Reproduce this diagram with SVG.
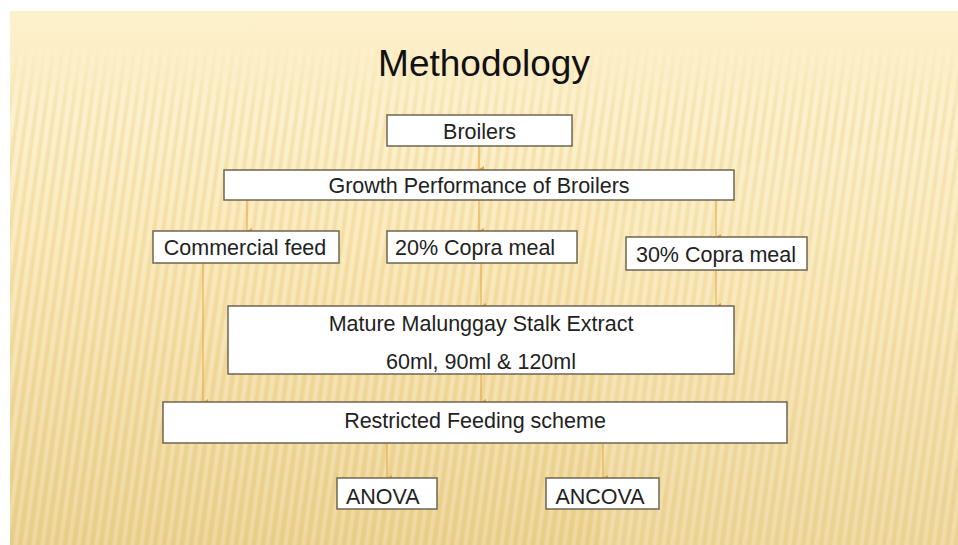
<svg xmlns="http://www.w3.org/2000/svg" width="958" height="545" viewBox="0 0 958 545">
  <defs>
    <linearGradient id="bg" x1="0" y1="0" x2="0" y2="1">
      <stop offset="0" stop-color="#fdf1cc"/>
      <stop offset="0.45" stop-color="#f8e3ab"/>
      <stop offset="1" stop-color="#eacf8b"/>
    </linearGradient>
    <pattern id="stripes" width="9" height="40" patternUnits="userSpaceOnUse" patternTransform="skewX(-8)">
      <rect x="0" y="0" width="4" height="40" fill="#ffffff" opacity="0.28"/>
      <rect x="5" y="0" width="3" height="40" fill="#d9b866" opacity="0.12"/>
    </pattern>
    <linearGradient id="fade" x1="0" y1="0" x2="0" y2="1">
      <stop offset="0" stop-color="#fff" stop-opacity="0"/>
      <stop offset="0.15" stop-color="#fff" stop-opacity="1"/>
      <stop offset="1" stop-color="#fff" stop-opacity="0.7"/>
    </linearGradient>
    <mask id="stripeMask">
      <rect x="10" y="40" width="948" height="505" fill="url(#fade)"/>
    </mask>
    <marker id="arrow" viewBox="0 0 6 5" refX="3" refY="5" markerWidth="6" markerHeight="5" markerUnits="userSpaceOnUse" orient="auto-start-reverse">
      <path d="M0,0 L6,0 L3,5 Z" fill="#e6a53c"/>
    </marker>
  </defs>
  <style>
    .box { fill: #ffffff; stroke: #6e6650; stroke-width: 1.5; }
    .lbl { font-family: "Liberation Sans", Arial, sans-serif; font-size: 21.5px; fill: #222222; }
    .mid { text-anchor: middle; }
    .title { font-family: "Liberation Sans", Arial, sans-serif; font-size: 37px; fill: #111111; text-anchor: middle; }
    .conn { stroke: #e6a53c; stroke-width: 1; fill: none; marker-end: url(#arrow); }
  </style>

  <!-- slide background -->
  <rect x="0" y="0" width="958" height="545" fill="#ffffff"/>
  <rect x="10" y="11" width="948" height="534" fill="url(#bg)"/>
  <rect x="10" y="40" width="948" height="505" fill="url(#stripes)" mask="url(#stripeMask)"/>
  <path d="M600,230 C700,160 840,140 958,140 L958,545 L600,545 Z" fill="#fff6dc" opacity="0.12"/>

  <text class="title" x="484" y="76">Methodology</text>

  <g id="connectors">
    <line class="conn" x1="479" y1="146" x2="479" y2="169"/>
    <line class="conn" x1="247" y1="200" x2="247" y2="231"/>
    <line class="conn" x1="479" y1="200" x2="479" y2="231"/>
    <line class="conn" x1="716" y1="200" x2="716" y2="237"/>
    <line class="conn" x1="481" y1="263" x2="481" y2="306"/>
    <line class="conn" x1="716" y1="270" x2="716" y2="306"/>
    <line class="conn" x1="203" y1="263" x2="203" y2="402"/>
    <line class="conn" x1="481" y1="374" x2="481" y2="402"/>
    <line class="conn" x1="387" y1="443" x2="387" y2="478"/>
    <line class="conn" x1="603" y1="443" x2="603" y2="478"/>
  </g>

  <g id="broilers">
    <rect class="box" x="387" y="115" width="185" height="31"/>
    <text class="lbl mid" x="479.5" y="138.5">Broilers</text>
  </g>
  <g id="growth">
    <rect class="box" x="224" y="170" width="510" height="30"/>
    <text class="lbl mid" x="479" y="192.5">Growth Performance of Broilers</text>
  </g>
  <g id="commercial">
    <rect class="box" x="153" y="231" width="186" height="32"/>
    <text class="lbl mid" x="245" y="254.5">Commercial feed</text>
  </g>
  <g id="copra20">
    <rect class="box" x="387" y="231" width="190" height="32"/>
    <text class="lbl" x="395" y="254.5">20% Copra meal</text>
  </g>
  <g id="copra30">
    <rect class="box" x="626" y="237" width="181" height="33"/>
    <text class="lbl mid" x="716" y="261.5">30% Copra meal</text>
  </g>
  <g id="extract">
    <rect class="box" x="228" y="306" width="506" height="68"/>
    <text class="lbl mid" x="481" y="331">Mature Malunggay Stalk Extract</text>
    <text class="lbl mid" x="481" y="369">60ml, 90ml &amp; 120ml</text>
  </g>
  <g id="restricted">
    <rect class="box" x="163" y="402" width="624" height="41"/>
    <text class="lbl mid" x="475" y="427.5">Restricted Feeding scheme</text>
  </g>
  <g id="anova">
    <rect class="box" x="337" y="478" width="100" height="31"/>
    <text class="lbl" x="346" y="503.5">ANOVA</text>
  </g>
  <g id="ancova">
    <rect class="box" x="546" y="478" width="113" height="31"/>
    <text class="lbl mid" x="600" y="503.5">ANCOVA</text>
  </g>
</svg>
